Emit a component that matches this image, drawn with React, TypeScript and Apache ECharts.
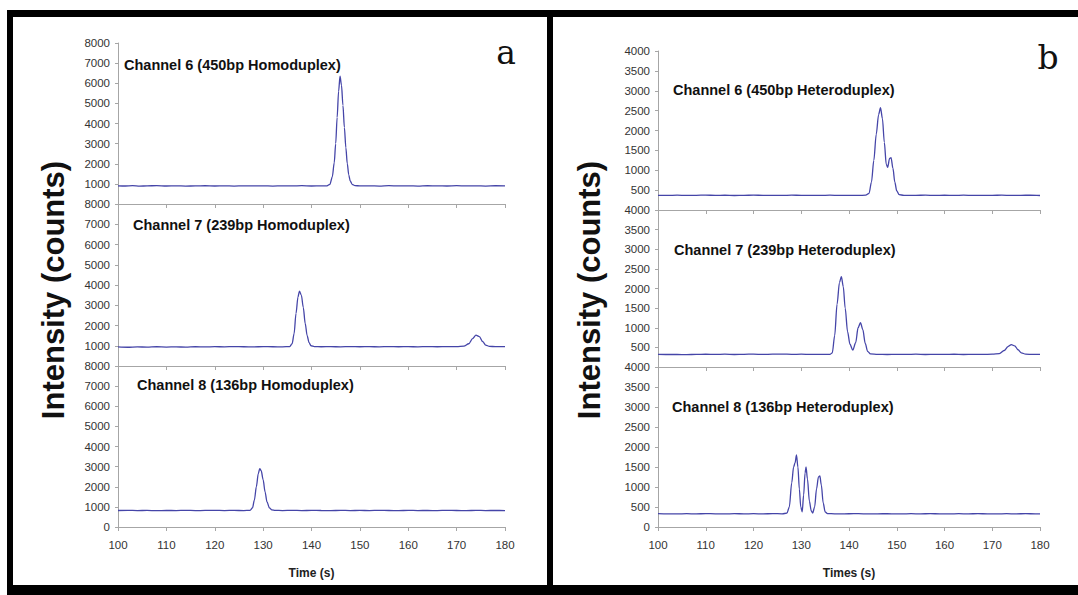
import React, { useEffect, useRef } from "react";
import * as echarts from "echarts";

// ---------- data (time s, intensity counts) ----------
const homo450: [number, number][] = [
  [100, 905], [101.5, 895], [103, 910], [104.5, 890], [106, 900], [108, 912], [110, 895], [112, 905], [114, 890], [116, 900],
  [118, 908], [120, 895], [122, 903], [124, 892], [126, 905], [128, 897], [130, 902], [132, 890], [134, 905], [136, 898],
  [138, 910], [140, 895], [142, 900], [143.2, 905], [143.8, 980], [144.3, 1350], [144.7, 2050], [145.0, 3000], [145.3, 4300],
  [145.6, 5600], [145.9, 6350], [146.2, 5900], [146.5, 4900], [146.8, 3800], [147.1, 2800], [147.4, 2000], [147.7, 1450],
  [148.0, 1150], [148.4, 980], [149.0, 915], [150, 900], [152, 905], [154, 892], [156, 910], [158, 898], [160, 903],
  [162, 890], [164, 908], [166, 900], [168, 895], [170, 910], [172, 897], [174, 905], [176, 892], [178, 908], [180, 900],
];
const homo239: [number, number][] = [
  [100, 940], [102, 925], [104, 945], [106, 930], [108, 950], [110, 935], [112, 945], [114, 930], [116, 950], [118, 940],
  [120, 955], [122, 945], [124, 960], [126, 950], [128, 945], [130, 955], [132, 950], [134, 945], [135.5, 960], [136.0, 1100],
  [136.4, 1600], [136.8, 2600], [137.2, 3400], [137.5, 3700], [137.9, 3500], [138.3, 2900], [138.7, 2100], [139.1, 1500],
  [139.5, 1150], [139.9, 1000], [140.6, 960], [142, 950], [144, 955], [146, 945], [148, 960], [150, 950], [152, 955],
  [154, 945], [156, 960], [158, 950], [160, 955], [162, 945], [164, 960], [166, 950], [168, 955], [170, 960], [171.5, 980],
  [172.5, 1100], [173.3, 1350], [174.0, 1520], [174.7, 1450], [175.4, 1200], [176.0, 1030], [176.8, 970], [178, 955], [180, 960],
];
const homo136: [number, number][] = [
  [100, 820], [102, 830], [104, 815], [106, 825], [108, 812], [110, 822], [112, 818], [114, 828], [116, 815], [118, 822],
  [120, 830], [122, 818], [124, 825], [126, 815], [127.3, 830], [127.8, 950], [128.2, 1350], [128.6, 2000], [129.0, 2650],
  [129.3, 2900], [129.6, 2800], [130.0, 2350], [130.4, 1750], [130.8, 1250], [131.3, 950], [131.8, 850], [132.5, 825],
  [134, 818], [136, 828], [138, 815], [140, 825], [142, 820], [144, 812], [146, 826], [148, 818], [150, 824], [152, 815],
  [154, 828], [156, 820], [158, 815], [160, 825], [162, 818], [164, 822], [166, 815], [168, 828], [170, 820], [172, 815],
  [174, 825], [176, 818], [178, 822], [180, 818],
];
const hetero450: [number, number][] = [
  [100, 370], [102, 368], [104, 372], [106, 366], [108, 370], [110, 374], [112, 368], [114, 371], [116, 365], [118, 370],
  [120, 373], [122, 368], [124, 370], [126, 366], [128, 372], [130, 369], [132, 370], [134, 366], [136, 372], [138, 368],
  [140, 370], [142, 367], [143.5, 372], [144.2, 420], [144.7, 700], [145.2, 1250], [145.7, 1900], [146.2, 2400],
  [146.6, 2575], [147.0, 2300], [147.4, 1700], [147.8, 1150], [148.1, 1075], [148.5, 1300], [148.8, 1320], [149.2, 1050],
  [149.6, 700], [150.0, 480], [150.5, 385], [151.5, 370], [154, 368], [156, 373], [158, 366], [160, 371], [162, 368],
  [164, 372], [166, 367], [168, 370], [170, 368], [172, 374], [174, 366], [176, 370], [178, 372], [180, 365],
];
const hetero239: [number, number][] = [
  [100, 322], [102, 318], [104, 320], [106, 315], [108, 322], [110, 325], [112, 320], [114, 326], [116, 318], [118, 324],
  [120, 328], [122, 320], [124, 326], [126, 330], [128, 322], [130, 326], [132, 320], [134, 324], [136, 322], [136.5, 360],
  [137.0, 800], [137.5, 1600], [138.0, 2150], [138.4, 2300], [138.8, 2050], [139.2, 1500], [139.7, 900], [140.2, 580],
  [140.8, 430], [141.4, 620], [141.9, 1000], [142.4, 1130], [142.9, 950], [143.4, 600], [143.9, 400], [144.5, 335],
  [146, 322], [148, 318], [150, 324], [152, 320], [154, 326], [156, 318], [158, 322], [160, 320], [162, 325], [164, 318],
  [166, 322], [168, 320], [170, 326], [171.5, 340], [172.5, 420], [173.3, 520], [174.0, 570], [174.7, 540], [175.4, 440],
  [176.1, 360], [177, 328], [178.5, 320], [180, 322],
];
const hetero136: [number, number][] = [
  [100, 335], [102, 330], [104, 326], [106, 332], [108, 328], [110, 334], [112, 330], [114, 327], [116, 333], [118, 329],
  [120, 332], [122, 328], [124, 334], [126, 330], [127.0, 345], [127.5, 500], [128.0, 1100], [128.4, 1500], [128.7, 1600],
  [129.0, 1800], [129.3, 1500], [129.6, 950], [129.9, 500], [130.2, 380], [130.5, 800], [130.8, 1350], [131.0, 1500],
  [131.3, 1200], [131.7, 650], [132.1, 400], [132.4, 350], [132.8, 500], [133.2, 950], [133.6, 1250], [133.9, 1275],
  [134.2, 1050], [134.6, 600], [135.0, 380], [135.5, 335], [137, 330], [139, 328], [141, 334], [143, 330], [145, 327],
  [147, 332], [149, 330], [151, 326], [153, 332], [155, 329], [157, 333], [159, 330], [161, 327], [163, 332], [165, 329],
  [167, 333], [169, 330], [171, 327], [173, 332], [175, 329], [177, 333], [179, 330], [180, 330],
];

const channelTitlesA = ["Channel 6 (450bp Homoduplex)", "Channel 7 (239bp Homoduplex)", "Channel 8 (136bp Homoduplex)"];
const channelTitlesB = ["Channel 6 (450bp Heteroduplex)", "Channel 7 (239bp Heteroduplex)", "Channel 8 (136bp Heteroduplex)"];
const xNameA = "Time (s)";
const xNameB = "Times (s)";
const yName = "Intensity (counts)";
const X_MIN = 100, X_MAX = 180, X_STEP = 10;
const Y_MAX_A = 8000, Y_STEP_A = 1000;
const Y_MAX_B = 4000, Y_STEP_B = 500;

const FONT = '"Liberation Sans", Arial, Helvetica, sans-serif';
const LINE_COLOR = "#4545a8";
const AXIS_COLOR = "#a6a6a6";

export default function App() {
  const ref = useRef<HTMLDivElement>(null);
  useEffect(() => {
    if (!ref.current) return;
    const chart = echarts.init(ref.current, undefined, { renderer: "svg" });

    const grids = [
      { left: 118, top: 43, width: 387, height: 161 },
      { left: 118, top: 204, width: 387, height: 162 },
      { left: 118, top: 366, width: 387, height: 161 },
      { left: 658, top: 51, width: 382, height: 159 },
      { left: 658, top: 210, width: 382, height: 157 },
      { left: 658, top: 367, width: 382, height: 160 },
    ];
    const datas = [homo450, homo239, homo136, hetero450, hetero239, hetero136];

    const xAxes = grids.map((_, i) => {
      const bottom = i === 2 || i === 5;
      return {
        type: "value",
        gridIndex: i,
        min: X_MIN,
        max: X_MAX,
        interval: X_STEP,
        splitLine: { show: false },
        axisLine: { show: true, lineStyle: { color: AXIS_COLOR, width: 1 } },
        axisTick: { show: true, length: 4, lineStyle: { color: AXIS_COLOR } },
        axisLabel: {
          show: bottom,
          color: "#333",
          fontSize: 11.5,
          fontFamily: FONT,
          margin: 12,
          formatter: (v: number) => String(v),
        },
        name: bottom ? (i === 2 ? xNameA : xNameB) : "",
        nameLocation: "middle",
        nameGap: 40,
        nameTextStyle: { color: "#222", fontSize: 12, fontWeight: "bold", fontFamily: FONT },
      };
    });
    const yAxes = grids.map((_, i) => {
      const left = i < 3;
      const bottom = i === 2 || i === 5;
      return {
        type: "value",
        gridIndex: i,
        min: 0,
        max: left ? Y_MAX_A : Y_MAX_B,
        interval: left ? Y_STEP_A : Y_STEP_B,
        splitLine: { show: false },
        axisLine: { show: true, lineStyle: { color: AXIS_COLOR, width: 1 } },
        axisTick: { show: true, length: 3, lineStyle: { color: AXIS_COLOR } },
        axisLabel: {
          color: "#333",
          fontSize: 11.5,
          fontFamily: FONT,
          margin: 8,
          showMinLabel: bottom,
          formatter: (v: number) => String(v),
        },
      };
    });
    const series = datas.map((d, i) => ({
      type: "line",
      xAxisIndex: i,
      yAxisIndex: i,
      data: d,
      showSymbol: false,
      smooth: 0.3,
      smoothMonotone: "x",
      lineStyle: { color: LINE_COLOR, width: 1.3 },
      itemStyle: { color: LINE_COLOR },
    }));

    const titlePos = [
      [124, 65], [133, 225], [137, 385],
      [673, 90], [674, 250], [672, 407],
    ];
    const titles = titlePos.map((p, i) => ({
      type: "text",
      x: p[0],
      y: p[1],
      style: {
        text: i < 3 ? channelTitlesA[i] : channelTitlesB[i - 3],
        fill: "#111",
        fontSize: 14.5,
        fontWeight: "bold",
        fontFamily: FONT,
        align: "left",
        verticalAlign: "middle",
      },
    }));

    const borders = [
      { x: 7, y: 10, width: 1071, height: 7 },
      { x: 7, y: 10, width: 6, height: 585 },
      { x: 7, y: 585, width: 1071, height: 10 },
      { x: 547, y: 10, width: 6, height: 585 },
    ].map((s) => ({ type: "rect", shape: s, style: { fill: "#000" }, z: 100 }));

    const yTitles = [53, 589].map((x) => ({
      type: "text",
      x,
      y: 290,
      rotation: Math.PI / 2,
      style: {
        text: yName,
        fill: "#111",
        fontSize: 31,
        fontWeight: "bold",
        fontFamily: FONT,
        align: "center",
        verticalAlign: "middle",
      },
    }));

    const letters = [
      { t: "a", x: 506, y: 52 },
      { t: "b", x: 1048, y: 57 },
    ].map((l) => ({
      type: "text",
      x: l.x,
      y: l.y,
      style: {
        text: l.t,
        fill: "#111",
        fontSize: 33,
        fontFamily: '"DejaVu Serif", "Liberation Serif", serif',
        align: "center",
        verticalAlign: "middle",
      },
    }));

    chart.setOption({
      animation: false,
      backgroundColor: "#fff",
      grid: grids.map((g) => ({ ...g, containLabel: false })),
      xAxis: xAxes,
      yAxis: yAxes,
      series,
      graphic: [...borders, ...titles, ...yTitles, ...letters],
    });
    return () => chart.dispose();
  }, []);
  return (
    <div
      ref={ref}
      style={{ position: "absolute", left: 0, top: 0, width: 1078, height: 595 }}
    />
  );
}
